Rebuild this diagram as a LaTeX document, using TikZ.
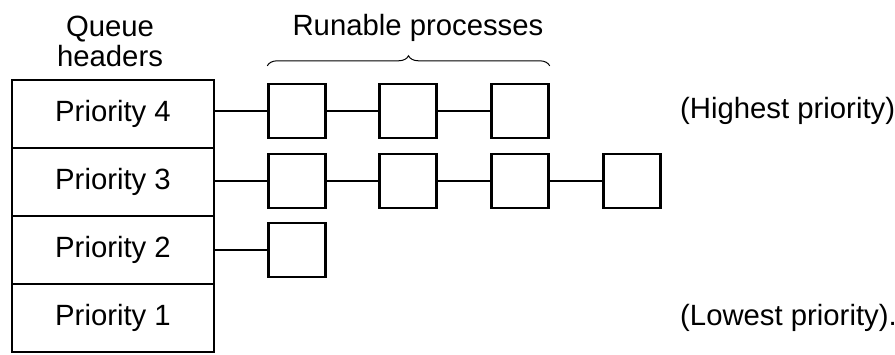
\documentclass[tikz,border=0pt]{standalone}
\usepackage{fontspec}
\setmainfont{Liberation Sans}
\usetikzlibrary{decorations.pathreplacing}
\begin{document}
\begin{tikzpicture}[x=1pt,y=-1pt,
  font=\fontsize{29.3}{30}\selectfont,
  hdr/.style={draw, line width=1.8pt, minimum width=202pt, minimum height=68pt, inner sep=0pt},
  proc/.style={draw, line width=2.4pt, minimum width=57pt, minimum height=54pt, inner sep=0pt},
  link/.style={line width=1.6pt},
  lbl/.style={inner sep=0pt}]
\useasboundingbox (0,0) rectangle (895,354);
% queue headers
\node[hdr] (h4) at (113,114) {Priority 4};
\node[hdr] (h3) at (113,182) {Priority 3};
\node[hdr] (h2) at (113,250) {Priority 2};
\node[hdr] (h1) at (113,318) {Priority 1};
% processes
\node[proc] (p41) at (297,111) {};
\node[proc] (p42) at (408,111) {};
\node[proc] (p43) at (520,111) {};
\node[proc] (p31) at (297,181) {};
\node[proc] (p32) at (408,181) {};
\node[proc] (p33) at (520,181) {};
\node[proc] (p34) at (632,181) {};
\node[proc] (p21) at (297,250) {};
% connectors
\draw[link] (h4.east |- p41.west) -- (p41.west);
\draw[link] (p41) -- (p42);
\draw[link] (p42) -- (p43);
\draw[link] (h3.east |- p31.west) -- (p31.west);
\draw[link] (p31) -- (p32);
\draw[link] (p32) -- (p33);
\draw[link] (p33) -- (p34);
\draw[link] (h2.east |- p21.west) -- (p21.west);
% brace
\coordinate (bl) at ([yshift=17pt]p41.north west);
\coordinate (br) at ([yshift=17pt]p43.north east);
\draw[line width=1pt, decorate, decoration={brace, amplitude=10pt}] (bl) -- (br);
% labels
\node[lbl, align=center] (qh) at (110,41) {Queue\\headers};
\node[lbl] (rp) at (418,28) {Runable processes};
\node[lbl, anchor=west] (hi) at (680,111) {(Highest priority)};
\node[lbl, anchor=west] (lo) at (680,318) {(Lowest priority).};
\end{tikzpicture}
\end{document}
